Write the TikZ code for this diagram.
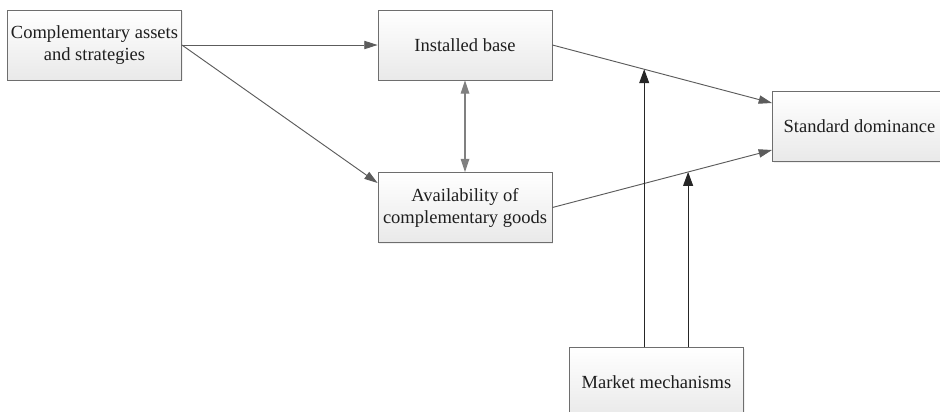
\documentclass[tikz,border=0pt]{standalone}
\usepackage{fontspec}
\setmainfont{Liberation Serif}
\usetikzlibrary{arrows.meta}
\usetikzlibrary{shadows}
\usetikzlibrary{positioning}
\usetikzlibrary{calc}

\definecolor{boxline}{HTML}{6E6E6E}
\definecolor{boxfill}{HTML}{E9E9E9}
\definecolor{linkgray}{HTML}{5C5C5C}
\definecolor{textdark}{HTML}{1E1E1E}

\tikzset{
  factor/.style={draw=boxline, line width=0.7pt, top color=white, bottom color=boxfill,
    drop shadow={opacity=0.12, shadow xshift=1pt, shadow yshift=-1.2pt},
    minimum width=5.22cm, minimum height=2.1cm, align=center, text=textdark,
    font=\fontsize{15.8}{18.8}\selectfont, inner sep=0pt},
  link/.style={draw=linkgray, line width=0.8pt, -{Triangle[length=4mm, width=2.5mm]}},
  mech/.style={draw=black!85, line width=0.8pt, -{Triangle[length=4.2mm, width=3mm]}}
}

\begin{document}
\begin{tikzpicture}[x=0.3mm, y=-0.3mm]
    \useasboundingbox (0,0) rectangle (940,411);

    \node[factor] (assets) at (94.5,45) {Complementary assets\\and strategies};
    \node[factor] (base)   at (465,45) {Installed base};
    \node[factor] (avail)  at (465,207.5) {Availability of\\complementary goods};
    \node[factor, anchor=west] (dom) at (772,126.5) {Standard dominance};
    \node[factor, anchor=north west] (market) at (569,347) {Market mechanisms};

    \coordinate (dom1) at ([yshift=7.05mm]dom.west);
    \coordinate (dom2) at ([yshift=-7.05mm]dom.west);

    \draw[link] (assets.east) -- (base.west);
    \draw[link] (assets.east) -- ([yshift=7.35mm]avail.west);
    \draw[link, draw=gray, line width=1pt, {Triangle[length=4mm, width=2.6mm]}-{Triangle[length=4mm, width=2.6mm]}] (base.south) -- (avail.north);
    \draw[link] (base.east) -- (dom1);
    \draw[link] (avail.east) -- (dom2);

    \coordinate (hit1) at ($(base.east)!0.418!(dom1)$);
    \coordinate (hit2) at ($(avail.east)!0.618!(dom2)$);
    \draw[mech] (market.north -| hit1) -- (hit1);
    \draw[mech] (market.north -| hit2) -- (hit2);
\end{tikzpicture}
\end{document}
